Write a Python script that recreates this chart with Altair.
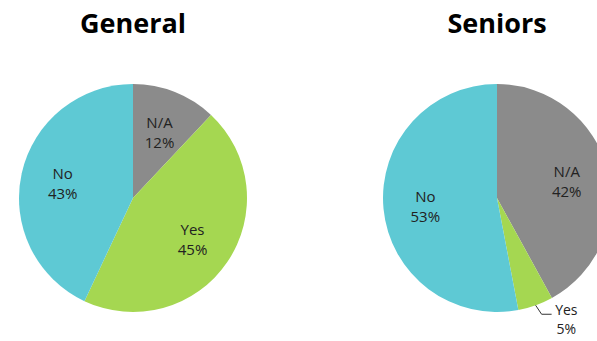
import math
import altair as alt
import pandas as pd

categories = ["N/A", "Yes", "No"]
general_pct = [12, 45, 43]
seniors_pct = [42, 5, 53]
panel_titles = ["General", "Seniors"]
colors = ["#8b8b8b", "#a5d751", "#5ec9d4"]

rows = []
for g, vals in zip(panel_titles, [general_pct, seniors_pct]):
    for i, (c, v) in enumerate(zip(categories, vals)):
        rows.append(dict(group=g, cat=c, value=v, order=i, label=f"{c}\n{v}%"))
df = pd.DataFrame(rows)

centers = {"General": (133, 198), "Seniors": (497, 198)}
R = 114

theta = alt.Theta("value:Q", stack=True)
color = alt.Color("cat:N", scale=alt.Scale(domain=categories, range=colors), legend=None)
order = alt.Order("order:Q")

layers = []
for g, (cx, cy) in centers.items():
    base = alt.Chart(df).transform_filter(alt.datum.group == g).transform_calculate(
        lab_in="datum.value >= 8 ? datum.label : ''",
        lab_out="datum.value < 8 ? datum.label : ''",
    )
    arc = base.mark_arc(outerRadius=R).encode(
        theta=theta, color=color, order=order, x=alt.value(cx), y=alt.value(cy)
    )
    lab_in = base.mark_text(
        radius=72, dy=-8, fontSize=15, lineBreak="\n", lineHeight=20, font="Open Sans", color="#222222"
    ).encode(theta=theta, order=order, text="lab_in:N", x=alt.value(cx), y=alt.value(cy))
    lab_out = base.mark_text(
        radius=125, dx=27, dy=-5, fontSize=14, lineBreak="\n", lineHeight=19, font="Open Sans", color="#222222"
    ).encode(theta=theta, order=order, text="lab_out:N", x=alt.value(cx), y=alt.value(cy))
    title = alt.Chart(pd.DataFrame({"t": [g]})).mark_text(
        fontSize=27, fontWeight="bold", font="Open Sans", color="black"
    ).encode(text="t:N", x=alt.value(cx), y=alt.value(25))
    layers += [arc, lab_in, lab_out, title]

# leader line for the small Seniors "Yes" slice
cx, cy = centers["Seniors"]
ang = 2 * math.pi * (seniors_pct[0] + seniors_pct[1] / 2) / 100
x0, y0 = cx + R * math.sin(ang), cy - R * math.cos(ang)
x1, y1 = x0 + 6, y0 + 9
x2 = x1 + 10
one = pd.DataFrame({"a": [0]})
rule1 = alt.Chart(one).mark_rule(color="#333333", strokeWidth=1).encode(
    x=alt.value(x0), y=alt.value(y0), x2=alt.value(x1), y2=alt.value(y1)
)
rule2 = alt.Chart(one).mark_rule(color="#333333", strokeWidth=1).encode(
    x=alt.value(x1), y=alt.value(y1), x2=alt.value(x2), y2=alt.value(y1)
)
layers += [rule1, rule2]

chart = alt.layer(*layers).properties(
    width=597, height=341, autosize="none", padding=0
).configure_view(stroke=None)

chart.save("out.html", embed_options={"renderer": "svg", "actions": False})
